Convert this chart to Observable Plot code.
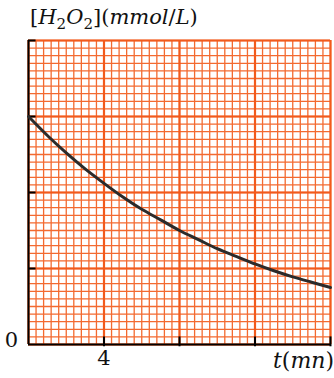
<!DOCTYPE html>
<html>
<head>
<meta charset="utf-8">
<script src="https://cdn.jsdelivr.net/npm/d3@7"></script>
<script src="https://cdn.jsdelivr.net/npm/@observablehq/plot@0.6"></script>
<style>
  html, body { margin: 0; padding: 0; background: #fff; }
  #wrap { position: relative; width: 334px; height: 378px; }
  .lbl { position: absolute; font-family: "DejaVu Serif", "Liberation Serif", serif; color: #111; white-space: nowrap; line-height: 1; }
  .lbl i { font-style: italic; }
  .lbl sub { font-size: 0.72em; vertical-align: -0.3em; line-height: 0; }
</style>
</head>
<body>
<div id="wrap">
  <div id="chart"></div>
  <div class="lbl" id="ytitle" style="left:30px; top:7px; font-size:21px;">[<i>H</i><sub>2</sub><i>O</i><sub>2</sub>](<i>mmol</i>/<i>L</i>)</div>
  <div class="lbl" id="xtitle" style="right:0px; top:350px; font-size:22px;"><i>t</i>(<i>mn</i>)</div>
</div>
<script>
// Time (min) and concentration (in major-grid units)
const times  = [0, 1, 2, 3, 4, 5, 6, 7, 8, 9, 10, 11, 12, 13, 14, 15, 16];
const conc   = [3.00, 2.75, 2.52, 2.31, 2.12, 1.94, 1.78, 1.64, 1.50, 1.38, 1.26, 1.16, 1.06, 0.97, 0.89, 0.82, 0.75];
const xTicks = [4, 8, 12, 16];
const yTicks = [1, 2, 3, 4];
const xTickLabels = ["4"];
const yZeroLabel = "0";

const data = times.map((t, i) => ({t, c: conc[i]}));
const xMinor = d3.range(0, 16.001, 0.4);
const yMinor = d3.range(0, 4.001, 0.1);
const xMajor = [0, 4, 8, 12, 16];
const yMajor = [0, 1, 2, 3, 4];
const gridColor = "#f25a1c";
const minorColor = "#f36a30";

const chart = Plot.plot({
  width: 334,
  height: 378,
  marginLeft: 28,
  marginRight: 4,
  marginTop: 40,
  marginBottom: 34,
  x: {domain: [0, 16], axis: null},
  y: {domain: [0, 4], axis: null},
  style: {background: "white"},
  marks: [
    Plot.ruleX(xMinor, {x: d => d, stroke: minorColor, strokeWidth: 1.3}),
    Plot.ruleY(yMinor, {y: d => d, stroke: minorColor, strokeWidth: 1.3}),
    Plot.ruleX(xMajor, {x: d => d, stroke: gridColor, strokeWidth: 2.2}),
    Plot.ruleY(yMajor, {y: d => d, stroke: gridColor, strokeWidth: 2.2}),
    // axes
    Plot.ruleX([0], {x: d => d, stroke: "black", strokeWidth: 2}),
    Plot.ruleY([0], {y: d => d, stroke: "black", strokeWidth: 2}),
    Plot.ruleY(yTicks, {y: d => d, x1: 0, x2: 0.4, stroke: "black", strokeWidth: 2}),
    Plot.ruleX(xTicks, {x: d => d, y1: -0.03, y2: 0.1, stroke: "black", strokeWidth: 2}),
    Plot.line(data, {x: "t", y: "c", stroke: "#2b2b2b", strokeWidth: 3, curve: "natural"}),
    Plot.text([yZeroLabel], {x: () => 0, y: () => 0, dx: -17, dy: -4, fontSize: 21, fontFamily: "DejaVu Serif", fill: "#111"}),
    Plot.text(xTickLabels, {x: d => +d, y: () => 0, dy: 14, fontSize: 21, fontFamily: "DejaVu Serif", fill: "#111"})
  ]
});
document.getElementById("chart").appendChild(chart);
</script>
</body>
</html>
